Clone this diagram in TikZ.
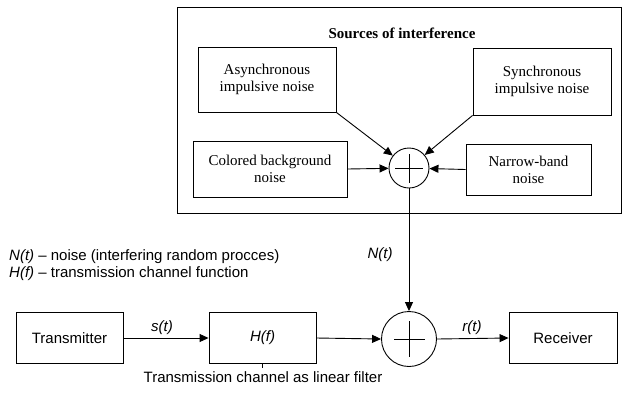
\documentclass[tikz,border=0pt]{standalone}
\usepackage{fontspec}
\setmainfont{Liberation Serif}
\setsansfont{Liberation Sans}
\usetikzlibrary{arrows.meta,calc}

\tikzset{
  serifbox/.style={draw, line width=0.9pt, align=center, inner sep=0pt,
    font=\fontsize{15}{17}\selectfont},
  sansbox/.style={draw, line width=0.9pt, align=center, inner sep=0pt,
    font=\sffamily\fontsize{15}{17}\selectfont,
    minimum height=51pt},
  summer/.style={draw, circle, line width=0.9pt, inner sep=0pt},
  sanslabel/.style={font=\sffamily\itshape\fontsize{15}{17}\selectfont, inner sep=0pt},
  flow/.style={line width=0.9pt, -{Triangle[length=9pt,width=8pt]}},
  plain/.style={line width=0.9pt},
}

\begin{document}
\begin{tikzpicture}[x=1pt,y=-1pt]
  \useasboundingbox (0,0) rectangle (622,392);

  % frame around the interference sources
  \draw[plain] (177,7) rectangle (621.5,213);
  \node[font=\bfseries\fontsize{15}{17}\selectfont, inner sep=0pt] (title) at (402,33) {Sources of interference};

  % interference sources
  \node[serifbox, minimum width=138pt, minimum height=65pt] (async) at (267,79.5) {Asynchronous\\impulsive noise};
  \node[serifbox, minimum width=138pt, minimum height=67pt] (sync) at (542,81.5) {Synchronous\\impulsive noise};
  \node[serifbox, minimum width=154pt, minimum height=56pt] (colored) at (270,169) {Colored background\\noise};
  \node[serifbox, minimum width=125pt, minimum height=51pt] (narrow) at (528.5,169.5) {Narrow-band\\noise};

  % summing point of the noise sources
  \node[summer, minimum size=40pt] (sum) at (409,168) {};
  \draw[plain] ($(sum.center)+(-14,0)$) -- ($(sum.center)+(14,0)$);
  \draw[plain] ($(sum.center)+(0,-14)$) -- ($(sum.center)+(0,15)$);

  \draw[flow] (async.south east) -- (sum);
  \draw[flow] (sync.south west) -- (sum);
  \draw[flow] (colored.east) -- (sum);
  \draw[flow] (narrow.west) -- (sum);

  % legend
  \node[anchor=west, align=left, inner sep=0pt, font=\sffamily\fontsize{15}{17}\selectfont] (legend) at (9,265.5)
    {\textit{N(t)} -- noise (interfering random procces)\\\textit{H(f)} -- transmission channel function};

  % transmission chain
  \node[sansbox, minimum width=107pt] (tx) at (69.5,338) {Transmitter};
  \node[sansbox, minimum width=107pt, font=\sffamily\itshape\fontsize{15}{17}\selectfont] (hf) at (262.5,338) {H(f)};
  \node[summer, minimum size=55pt] (add) at (409,339) {};
  \draw[plain] ($(add.center)+(-15,0)$) -- ($(add.center)+(16,0)$);
  \draw[plain] ($(add.center)+(0,-18)$) -- ($(add.center)+(0,18)$);
  \node[sansbox, minimum width=108pt] (rx) at (563,338) {Receiver};

  \draw[flow] (tx.east) -- (hf.west -| hf.west);
  \draw[flow] (hf.east) -- (add.west);
  \draw[flow] (add.east) -- (rx.west);
  \draw[flow] (sum.south) -- (add.north);

  \node[sanslabel] (st) at (162,328) {s(t)};
  \node[sanslabel] (rt) at (472,328) {r(t)};
  \node[sanslabel] (nt) at (380,255) {N(t)};

  % caption of the channel block
  \coordinate (tick) at ($(hf.south)+(0,4)$);
  \draw[plain] (hf.south) -- (tick);
  \node[font=\sffamily\fontsize{15}{17}\selectfont, inner sep=0pt] (caption) at (263,377) {Transmission channel as linear filter};
\end{tikzpicture}
\end{document}
